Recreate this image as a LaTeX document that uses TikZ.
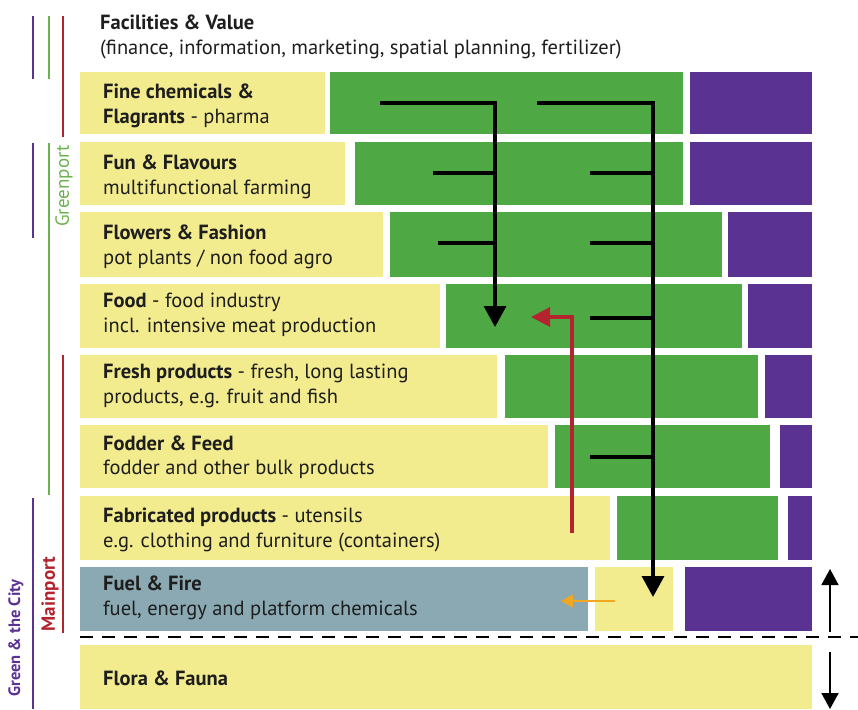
\documentclass[tikz,border=0pt]{standalone}
\usepackage{fontspec}
\setmainfont{PT Sans}
\usetikzlibrary{arrows.meta}
\definecolor{yel}{HTML}{F3EC8F}
\definecolor{grn}{HTML}{4EA844}
\definecolor{prp}{HTML}{5A3392}
\definecolor{blu}{HTML}{8AA9B3}
\definecolor{redl}{HTML}{B3242F}
\definecolor{grnl}{HTML}{6BB24F}
\definecolor{orn}{HTML}{F0A820}
\definecolor{txt}{HTML}{1E1E1E}
\begin{document}
\begin{tikzpicture}[x=1pt,y=-1pt,
  box/.style={draw=none,inner sep=0,anchor=north west},
  lbl/.style={anchor=west,align=left,inner sep=0,text=txt,font=\fontsize{20.5}{24.5}\selectfont},
  bigarrow/.style={line width=3.3pt,-{Triangle[width=22pt,length=21pt]}},
  branch/.style={line width=3.3pt},
  vline/.style={line width=2.2pt},
  vtext/.style={rotate=90,inner sep=0}]
\useasboundingbox (0,0) rectangle (858,709);
% row 1
\node[box,fill=yel,minimum width=245,minimum height=62] (y1) at (80,72) {};
\node[box,fill=grn,minimum width=353,minimum height=62] (g1) at (330,72) {};
\node[box,fill=prp,minimum width=122,minimum height=62] (p1) at (690,72) {};
% row 2
\node[box,fill=yel,minimum width=265,minimum height=63] (y2) at (80,142) {};
\node[box,fill=grn,minimum width=328,minimum height=63] (g2) at (355,142) {};
\node[box,fill=prp,minimum width=122,minimum height=63] (p2) at (690,142) {};
% row 3
\node[box,fill=yel,minimum width=303,minimum height=65] (y3) at (80,212) {};
\node[box,fill=grn,minimum width=332,minimum height=65] (g3) at (390,212) {};
\node[box,fill=prp,minimum width=84,minimum height=65] (p3) at (728,212) {};
% row 4
\node[box,fill=yel,minimum width=360,minimum height=64] (y4) at (80,284) {};
\node[box,fill=grn,minimum width=296,minimum height=64] (g4) at (446,284) {};
\node[box,fill=prp,minimum width=64,minimum height=64] (p4) at (748,284) {};
% row 5
\node[box,fill=yel,minimum width=417,minimum height=63] (y5) at (80,355) {};
\node[box,fill=grn,minimum width=253,minimum height=63] (g5) at (505,355) {};
\node[box,fill=prp,minimum width=47,minimum height=63] (p5) at (765,355) {};
% row 6
\node[box,fill=yel,minimum width=468,minimum height=63] (y6) at (80,425) {};
\node[box,fill=grn,minimum width=215,minimum height=63] (g6) at (555,425) {};
\node[box,fill=prp,minimum width=32,minimum height=63] (p6) at (780,425) {};
% row 7
\node[box,fill=yel,minimum width=530,minimum height=64] (y7) at (80,496) {};
\node[box,fill=grn,minimum width=161,minimum height=64] (g7) at (617,496) {};
\node[box,fill=prp,minimum width=24,minimum height=64] (p7) at (788,496) {};
% row 8
\node[box,fill=blu,minimum width=508,minimum height=64] (b8) at (80,567) {};
\node[box,fill=yel,minimum width=78,minimum height=64] (y8) at (595,567) {};
\node[box,fill=prp,minimum width=127,minimum height=64] (p8) at (685,567) {};
% row 9
\node[box,fill=yel,minimum width=732,minimum height=64] (y9) at (80,645) {};

% texts
\node[lbl] (th) at (100,37) {\textbf{Facilities \& Value}\\(finance, information, marketing, spatial planning, fertilizer)};
\node[lbl] (t1) at (103,106) {\textbf{Fine chemicals \&}\\\textbf{Flagrants} - pharma};
\node[lbl] (t2) at (103,177) {\textbf{Fun \& Flavours}\\multifunctional farming};
\node[lbl] (t3) at (103,247) {\textbf{Flowers \& Fashion}\\pot plants / non food agro};
\node[lbl] (t4) at (103,315) {\textbf{Food} - food industry\\incl. intensive meat production};
\node[lbl] (t5) at (103,386) {\textbf{Fresh products} - fresh, long lasting\\products, e.g. fruit and fish};
\node[lbl] (t6) at (103,457) {\textbf{Fodder \& Feed}\\fodder and other bulk products};
\node[lbl] (t7) at (103,530) {\textbf{Fabricated products} - utensils\\e.g. clothing and furniture (containers)};
\node[lbl] (t8) at (103,598) {\textbf{Fuel \& Fire}\\fuel, energy and platform chemicals};
\node[lbl] (t9) at (103,678) {\textbf{Flora \& Fauna}};

% black arrows
\coordinate (a1s) at (380,103);
\coordinate (a1c) at (495,103);
\coordinate (a1e) at (495,327);
\coordinate (a2s) at (537,103);
\coordinate (a2c) at (653,103);
\coordinate (a2e) at (653,597);
\draw[bigarrow] (a1s) -- (a1c) -- (a1e);
\draw[bigarrow] (a2s) -- (a2c) -- (a2e);
\coordinate (b1s) at (433,173); \coordinate (b1e) at (495,173);
\coordinate (b2s) at (438,243); \coordinate (b2e) at (495,243);
\coordinate (b3s) at (590,173); \coordinate (b3e) at (653,173);
\coordinate (b4s) at (590,243); \coordinate (b4e) at (653,243);
\coordinate (b5s) at (590,318); \coordinate (b5e) at (653,318);
\coordinate (b6s) at (590,457); \coordinate (b6e) at (653,457);
\foreach \k in {1,...,6} \draw[branch] (b\k s) -- (b\k e);

% red arrow
\coordinate (rs) at (572,533);
\coordinate (rc) at (572,317);
\coordinate (re) at (531,317);
\draw[line width=3.2pt,redl,-{Triangle[width=19pt,length=19pt]}] (rs) -- (rc) -- (re);
% orange arrow
\coordinate (os) at (615,601);
\coordinate (oe) at (561,601);
\draw[line width=1.2pt,orn,-{Triangle[width=13pt,length=12pt]}] (os) -- (oe);

% dashed line
\coordinate (d1) at (80,637);
\coordinate (d2) at (858,637);
\draw[line width=1.7pt,dash pattern=on 13pt off 9pt] (d1) -- (d2);
% right arrows
\coordinate (u1) at (830,632); \coordinate (u2) at (830,569);
\coordinate (w1) at (830,652); \coordinate (w2) at (830,709);
\draw[line width=1.8pt,-{Triangle[width=17pt,length=16pt]}] (u1) -- (u2);
\draw[line width=1.8pt,-{Triangle[width=17pt,length=16pt]}] (w1) -- (w2);

% left vertical lines
\draw[vline,prp,line width=1.8pt] (33,16) -- (33,79);
\draw[vline,grnl,line width=1.5pt] (49,16) -- (49,79);
\draw[vline,redl] (63,16) -- (63,137);
\draw[vline,prp,line width=1.8pt] (33,143) -- (33,238);
\draw[vline,grnl] (49,143) -- (49,495);
\draw[vline,redl] (63,355) -- (63,633);
\draw[vline,prp,line width=1.8pt] (33,498) -- (33,709);
\node[vtext,text=grnl,font=\fontsize{19}{21}\selectfont] (gp) at (64,186) {Greenport};
\node[vtext,text=redl,font=\fontsize{19}{21}\selectfont\bfseries] (mp) at (50,594) {Mainport};
\node[vtext,text=prp,font=\fontsize{16.5}{19}\selectfont\bfseries,anchor=east] (gc) at (16,579) {Green \& the City};
\end{tikzpicture}
\end{document}
